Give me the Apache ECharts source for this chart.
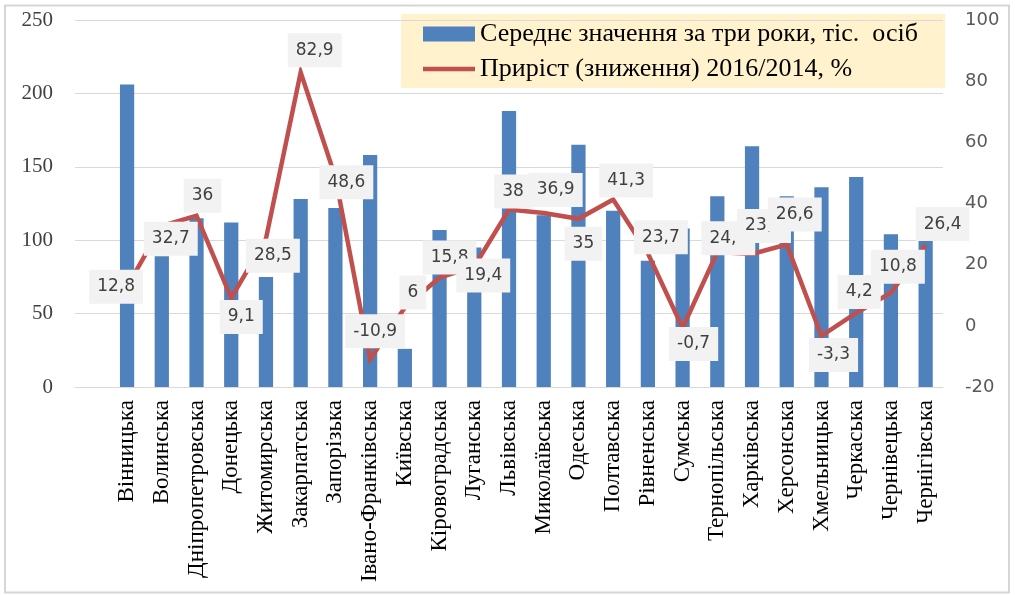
<!DOCTYPE html>
<html>
<head>
<meta charset="utf-8">
<title>Середнє значення та приріст по областях</title>
<script src="https://cdn.jsdelivr.net/npm/echarts@6/dist/echarts.min.js"></script>
<style>
  html, body { margin: 0; padding: 0; background: #ffffff; }
  #chart { width: 1015px; height: 595px; }
</style>
</head>
<body>
<div id="chart"></div>
<script>
// Regions (the leading empty slot keeps a blank column at the left of the plot)
const categories = ['', 'Вінницька', 'Волинська', 'Дніпропетровська', 'Донецька', 'Житомирська',
  'Закарпатська', 'Запорізька', 'Івано-Франківська', 'Київська', 'Кіровоградська', 'Луганська',
  'Львівська', 'Миколаївська', 'Одеська', 'Полтавська', 'Рівненська', 'Сумська', 'Тернопільська',
  'Харківська', 'Херсонська', 'Хмельницька', 'Черкаська', 'Чернівецька', 'Чернігівська'];

// Average over three years, thousand persons
const avgValues = [null, 206, 89, 115, 112, 75, 128, 122, 158, 26, 107, 95, 188, 117, 165, 120,
  86, 108, 130, 164, 130, 136, 143, 104, 102];

// Growth (decline) 2016/2014, %
const growthValues = [null, 12.8, 32.7, 36, 9.1, 28.5, 82.9, 48.6, -10.9, 6, 15.8, 19.4, 38, 36.9,
  35, 41.3, 23.7, -0.7, 24.1, 23.5, 26.6, -3.3, 4.2, 10.8, 26.4];

const leftTicks = { min: 0, max: 250, interval: 50 };
const rightTicks = { min: -20, max: 100, interval: 20 };

const seriesNames = ['Середнє значення за три роки, тіс.  осіб', 'Приріст (зниження) 2016/2014, %'];

// Placement of each growth label relative to its point [dx, dy]
const labelOffsets = [null, [-11, 0], [9, 13], [6, -20], [10, 19], [7, 17], [14, -22], [11, 5],
  [5, -28], [8, -15], [10, -20], [9, 9], [4, -18], [12, -23], [5, 25], [13, -19], [13, -16],
  [11, 16], [11, -14], [12, -28], [8, -30], [12, 19], [3, -21], [7, -26], [17, -21]];

const fmt = v => String(v).replace('.', ',');

const growthData = growthValues.map((v, i) => {
  if (v === null) return null;
  return { value: v, label: { offset: labelOffsets[i] } };
});

const chart = echarts.init(document.getElementById('chart'), null, { renderer: 'canvas' });

chart.setOption({
  backgroundColor: '#ffffff',
  animation: false,
  graphic: [
    {
      type: 'rect', z: -10,
      shape: { x: 5, y: 5.5, width: 1004, height: 587 },
      style: { fill: '#ffffff', stroke: '#d6d6d6', lineWidth: 2 }
    },
    {
      type: 'rect', z: 0,
      shape: { x: 401, y: 14, width: 544, height: 74 },
      style: { fill: '#fff2cc' }
    }
  ],
  legend: {
    orient: 'vertical',
    left: 423,
    top: 19,
    padding: 0,
    itemGap: 5,
    itemWidth: 52,
    itemHeight: 15,
    z: 5,
    textStyle: { fontFamily: 'Liberation Serif', fontSize: 26, lineHeight: 30, color: '#000000' },
    data: [
      { name: seriesNames[0], icon: 'rect' },
      { name: seriesNames[1], icon: 'path://M0,0H52V4.5H0Z' }
    ]
  },
  grid: { left: 75, right: 72, top: 20, bottom: 208, containLabel: false },
  xAxis: {
    type: 'category',
    data: categories,
    boundaryGap: true,
    axisTick: { show: false },
    axisLine: { show: true, lineStyle: { color: '#d9d9d9', width: 1 } },
    axisLabel: {
      interval: 0,
      rotate: 90,
      margin: 13,
      fontFamily: 'Liberation Serif',
      fontSize: 23,
      color: '#000000'
    }
  },
  yAxis: [
    {
      type: 'value',
      position: 'left',
      min: leftTicks.min, max: leftTicks.max, interval: leftTicks.interval,
      axisLine: { show: false },
      axisTick: { show: false },
      splitLine: { show: true, lineStyle: { color: '#d9d9d9', width: 1 } },
      axisLabel: { margin: 22, fontFamily: 'Liberation Serif', fontSize: 21, color: '#404040' }
    },
    {
      type: 'value',
      position: 'right',
      min: rightTicks.min, max: rightTicks.max, interval: rightTicks.interval,
      axisLine: { show: false },
      axisTick: { show: false },
      splitLine: { show: false },
      axisLabel: { margin: 22, fontFamily: 'DejaVu Sans', fontSize: 18, color: '#595959' }
    }
  ],
  series: [
    {
      name: seriesNames[0],
      type: 'bar',
      yAxisIndex: 0,
      barWidth: '41%',
      itemStyle: { color: '#4f81bd' },
      data: avgValues
    },
    {
      name: seriesNames[1],
      type: 'line',
      yAxisIndex: 1,
      symbol: 'circle',
      symbolSize: 1,
      showSymbol: true,
      itemStyle: { color: '#c0504d' },
      lineStyle: { color: '#c0504d', width: 4.5, join: 'miter' },
      label: {
        show: true,
        position: 'inside',
        formatter: p => fmt(p.value),
        fontFamily: 'DejaVu Sans',
        fontSize: 17,
        lineHeight: 20,
        color: '#404040',
        backgroundColor: '#f2f2f2',
        padding: [7, 8]
      },
      data: growthData
    }
  ]
});
</script>
</body>
</html>
